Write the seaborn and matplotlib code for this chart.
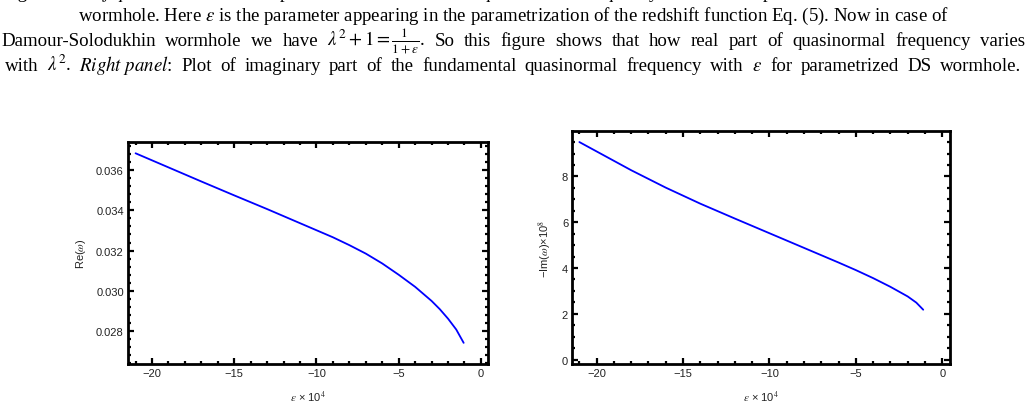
"""
Quasinormal frequency of the parametrized Damour-Solodukhin wormhole:
real part (left) and imaginary part (right) against epsilon.
"""

import matplotlib
matplotlib.use("Agg")
import matplotlib.pyplot as plt
import seaborn as sns
from matplotlib.ticker import MultipleLocator

# 1. Data
eps_re = [-21, -19, -17, -15, -13, -11, -9, -8, -7, -6, -5, -4, -3, -2.5, -2, -1.5, -1.05]
re_omega = [0.03683, 0.03613, 0.03543, 0.03474, 0.03406, 0.03336, 0.03266, 0.03227,
            0.03185, 0.03136, 0.03080, 0.03020, 0.02950, 0.02909, 0.02862, 0.02808, 0.02742]

eps_im = [-21, -20, -19, -18, -16, -14, -12, -10, -8, -6, -5, -4, -3, -2, -1.5, -1.1]
im_omega = [9.50, 9.09, 8.68, 8.27, 7.51, 6.81, 6.16, 5.52, 4.88, 4.24, 3.91, 3.56,
            3.18, 2.76, 2.49, 2.18]

x_ticks = [-20, -15, -10, -5, 0]
x_labels = ["\u221220", "\u221215", "\u221210", "\u22125", "0"]
re_ticks = [0.028, 0.030, 0.032, 0.034, 0.036]
im_ticks = [0, 2, 4, 6, 8]

# caption lines: (text, justified to full width?)
caption = [
    ("Figure 5: $\\mathit{Left\\ panel}$: Plot of real part of the fundamental quasinormal frequency with $\\varepsilon$ for parametrized Damour-Solodukhin", True),
    ("wormhole. Here $\\varepsilon$ is the parameter appearing in the parametrization of the redshift function Eq. (5). Now in case of", False),
    ("Damour-Solodukhin wormhole we have $\\lambda^2 + 1 = \\frac{1}{1+\\varepsilon}$. So this figure shows that how real part of quasinormal frequency varies", True),
    ("with $\\lambda^2$. $\\mathit{Right\\ panel}$: Plot of imaginary part of the fundamental quasinormal frequency with $\\varepsilon$ for parametrized DS wormhole.", True),
]
caption_baselines = [-2, 21, 46, 71]

# 2. Style
sns.set_style("ticks")
plt.rcParams["font.family"] = ["Liberation Sans", "DejaVu Sans"]
plt.rcParams["mathtext.fontset"] = "stix"

TEXT_COL = "#222222"
LINE_COL = "#0000ff"
W, H = 1027, 410
CAP_FONT = dict(fontsize=13.6, family=["Liberation Serif", "DejaVu Serif"], color="black")


def split_words(line):
    """Split on spaces that are not inside $...$ math."""
    words, cur, in_math = [], "", False
    for ch in line:
        if ch == "$":
            in_math = not in_math
        if ch == " " and not in_math:
            words.append(cur)
            cur = ""
        else:
            cur += ch
    words.append(cur)
    return words


def draw_justified(fig, line, baseline, x0, x1):
    renderer = fig.canvas.get_renderer()
    words = split_words(line)
    texts = [fig.text(0, 1 - baseline / H, w, ha="left", va="baseline", **CAP_FONT) for w in words]
    widths = [t.get_window_extent(renderer).width for t in texts]
    gap = (x1 - x0 - sum(widths)) / (len(words) - 1)
    x = x0
    for t, w in zip(texts, widths):
        t.set_x(x / W)
        x += w + gap


def style_frame(ax, xlim, ylim, yticks, yminor):
    ax.set_xlim(*xlim)
    ax.set_ylim(*ylim)
    ax.set_xticks(x_ticks)
    ax.set_xticklabels(x_labels)
    ax.set_yticks(yticks)
    ax.xaxis.set_minor_locator(MultipleLocator(1))
    ax.yaxis.set_minor_locator(MultipleLocator(yminor))
    ax.tick_params(which="both", direction="in", top=True, right=True,
                   colors="black", labelcolor=TEXT_COL, labelsize=8, width=1.6, pad=3)
    ax.tick_params(which="major", length=4.5)
    ax.tick_params(which="minor", length=2.5)
    for s in ax.spines.values():
        s.set_linewidth(2.0)
        s.set_color("black")
    ax.set_xlabel("$\\varepsilon$ \u00d7 10$^4$", fontsize=8, color=TEXT_COL, labelpad=8)


fig = plt.figure(figsize=(W / 100, H / 100), dpi=100)

spans = [(2, 1025), None, (1, 1025), (5, 1021)]
for i, (line, justify) in enumerate(caption):
    baseline = caption_baselines[i]
    if justify:
        draw_justified(fig, line, baseline, *spans[i])
    else:
        fig.text(0.5, 1 - baseline / H, line, ha="center", va="baseline", **CAP_FONT)

ax1 = fig.add_axes([128 / W, 1 - 365 / H, 360 / W, 222 / H])
sns.lineplot(x=eps_re, y=re_omega, ax=ax1, color=LINE_COL, linewidth=1.3)
style_frame(ax1, (-21.46, 0.43), (0.02637, 0.03739), re_ticks, 0.0004)
ax1.set_yticklabels([f"{t:.3f}" for t in re_ticks])
ax1.set_ylabel("Re($\\omega$)", fontsize=8, color=TEXT_COL, labelpad=6)

ax2 = fig.add_axes([572.3 / W, 1 - 365 / H, 377.7 / W, 232.7 / H])
sns.lineplot(x=eps_im, y=im_omega, ax=ax2, color=LINE_COL, linewidth=1.3)
style_frame(ax2, (-21.41, 0.45), (-0.19, 9.97), im_ticks, 0.5)
ax2.set_ylabel("\u2212Im($\\omega$)\u00d710$^8$", fontsize=8, color=TEXT_COL, labelpad=6)

fig.savefig("out.png", dpi=100)
